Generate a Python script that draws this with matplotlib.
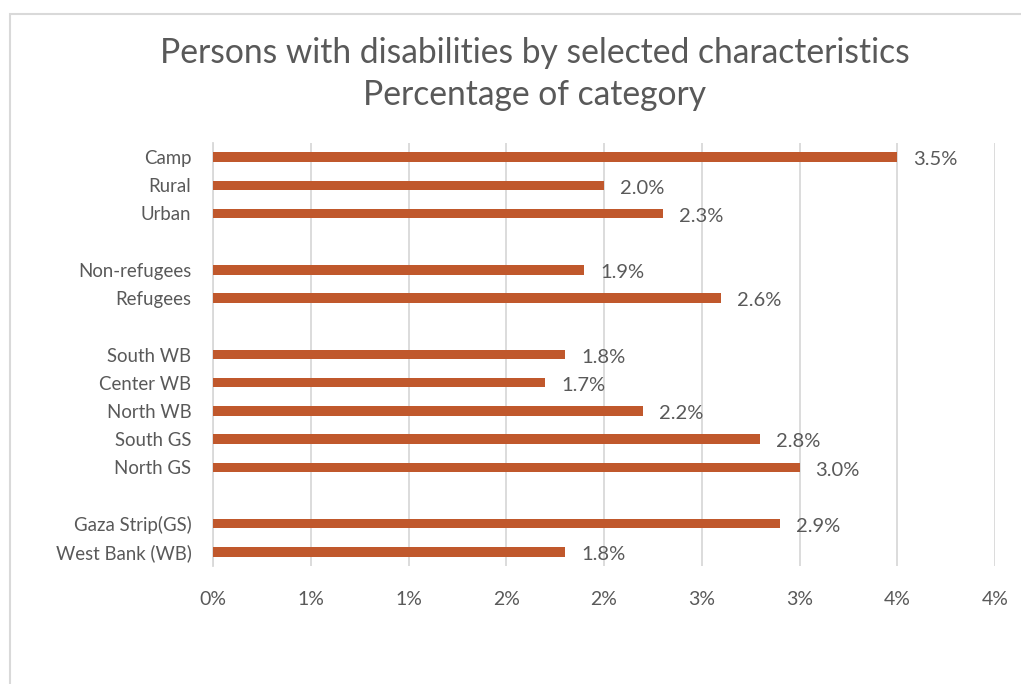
import matplotlib
matplotlib.use("Agg")
import matplotlib.pyplot as plt
from matplotlib.patches import Rectangle

categories = ["Camp", "Rural", "Urban", "", "Non-refugees", "Refugees", "",
              "South WB", "Center WB", "North WB", "South GS", "North GS", "",
              "Gaza Strip(GS)", "West Bank (WB)"]
values = [3.5, 2.0, 2.3, None, 1.9, 2.6, None,
          1.8, 1.7, 2.2, 2.8, 3.0, None, 2.9, 1.8]
xticks = [0, 0.5, 1.0, 1.5, 2.0, 2.5, 3.0, 3.5, 4.0]
xtick_labels = ["0%", "1%", "1%", "2%", "2%", "3%", "3%", "4%", "4%"]
title = "Persons with disabilities by selected characteristics\nPercentage of category"

plt.rcParams['font.family'] = ['Lato', 'DejaVu Sans']
TXT = "#595959"
BAR = "#C0582C"
GRID = "#D9D9D9"

W, H = 1021, 684
fig = plt.figure(figsize=(W / 100, H / 100), dpi=100)
fig.patches.append(Rectangle((10 / W, -0.1), 1.2, 1 - 14 / H + 0.1, transform=fig.transFigure,
                             fill=False, edgecolor=GRID, linewidth=1.5))

ax = fig.add_axes([213 / W, 1 - 566 / H, (995 - 213) / W, (566 - 143) / H])
pos = list(range(len(categories)))
for i, v in zip(pos, values):
    if v is None:
        continue
    ax.barh(i, v, height=0.34, color=BAR, zorder=3)
    ax.annotate(f"{v:.1f}%", (v, i), xytext=(11.5, -2), textcoords="offset points",
                va="center", ha="left", fontsize=14.5, color=TXT)

ax.set_ylim(len(categories) - 0.5, -0.5)
ax.set_xlim(0, 4.0)
ax.set_yticks(pos)
ax.set_yticklabels(categories, fontsize=13.4, color=TXT)
ax.set_xticks(xticks)
ax.set_xticklabels(xtick_labels, fontsize=14, color=TXT)
ax.tick_params(length=0)
ax.tick_params(axis='y', pad=15.5)
ax.tick_params(axis='x', pad=18)
ax.grid(axis='x', color=GRID, linewidth=1.3, zorder=0)
for s in ["top", "right", "bottom"]:
    ax.spines[s].set_visible(False)
ax.spines["left"].set_color(GRID)
ax.spines["left"].set_linewidth(1.3)

fig.text(535 / W, 1 - 74 / H, title, ha="center", va="center", fontsize=24.2,
         color=TXT, linespacing=1.4)

fig.savefig("out.png", dpi=100)
